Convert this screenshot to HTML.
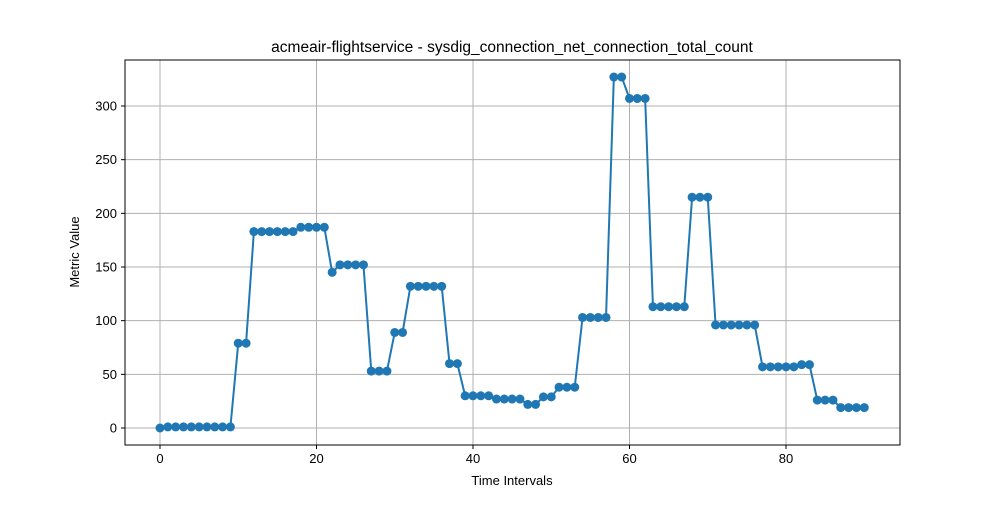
<!DOCTYPE html>
<html><head><meta charset="utf-8"><style>
body{margin:0;background:#fff;}
svg text{font-family:"Liberation Sans","DejaVu Sans",sans-serif;fill:#000;}
</style></head><body>
<svg id="chart" width="1000" height="500" xmlns="http://www.w3.org/2000/svg"></svg>
<script>
const values=[0,1,1,1,1,1,1,1,1,1,79,79,183,183,183,183,183,183,187,187,187,187,145,152,152,152,152,53,53,53,89,89,132,132,132,132,132,60,60,30,30,30,30,27,27,27,27,22,22,29,29,38,38,38,103,103,103,103,327,327,307,307,307,113,113,113,113,113,215,215,215,96,96,96,96,96,96,57,57,57,57,57,59,59,26,26,26,19,19,19,19];
const xTicks=[0,20,40,60,80];
const yTicks=[0,50,100,150,200,250,300];
const NS="http://www.w3.org/2000/svg";
const svg=document.getElementById('chart');
const L=125,R=900,T=60,B=445;
const xs=v=>160+(v-0)*(786-160)/80;
const ys=v=>428-v*(428-106)/300;
function mk(t,a,p){const e=document.createElementNS(NS,t);for(const k in a)e.setAttribute(k,a[k]);(p||svg).appendChild(e);return e;}
const grid=mk('g',{});


xTicks.forEach(t=>{const x=xs(t);
mk('line',{x1:x,x2:x,y1:T,y2:B,stroke:'#b0b0b0','stroke-width':1},grid);
mk('line',{x1:x,x2:x,y1:B,y2:B+4,stroke:'#000'});
const tx=mk('text',{x:x,y:B+18,'text-anchor':'middle','font-size':13});tx.textContent=t;

});
yTicks.forEach(t=>{const y=ys(t);
mk('line',{x1:L,x2:R,y1:y,y2:y,stroke:'#b0b0b0','stroke-width':1},grid);
mk('line',{x1:L-4,x2:L,y1:y,y2:y,stroke:'#000'});
const tx=mk('text',{x:L-8,y:y+4.5,'text-anchor':'end','font-size':13});tx.textContent=t;

});
const pts=values.map((v,i)=>xs(i)+','+ys(v)).join(' ');
const line=mk('polyline',{points:pts,fill:'none',stroke:'#1f77b4','stroke-width':2});


values.forEach((v,i)=>{const c=mk('circle',{cx:xs(i),cy:ys(v),r:4.5,fill:'#1f77b4'});

});
const frame=mk('rect',{x:L,y:T,width:R-L,height:B-T,fill:'none',stroke:'#000','stroke-width':1});


const title=mk('text',{x:512,y:52,'text-anchor':'middle','font-size':15.5});title.textContent='acmeair-flightservice - sysdig_connection_net_connection_total_count';


const xl=mk('text',{x:512,y:485,'text-anchor':'middle','font-size':13});xl.textContent='Time Intervals';


const yl=mk('text',{x:79,y:252,'text-anchor':'middle','font-size':13,transform:'rotate(-90 79 252)'});yl.textContent='Metric Value';


</script>
</body></html>
